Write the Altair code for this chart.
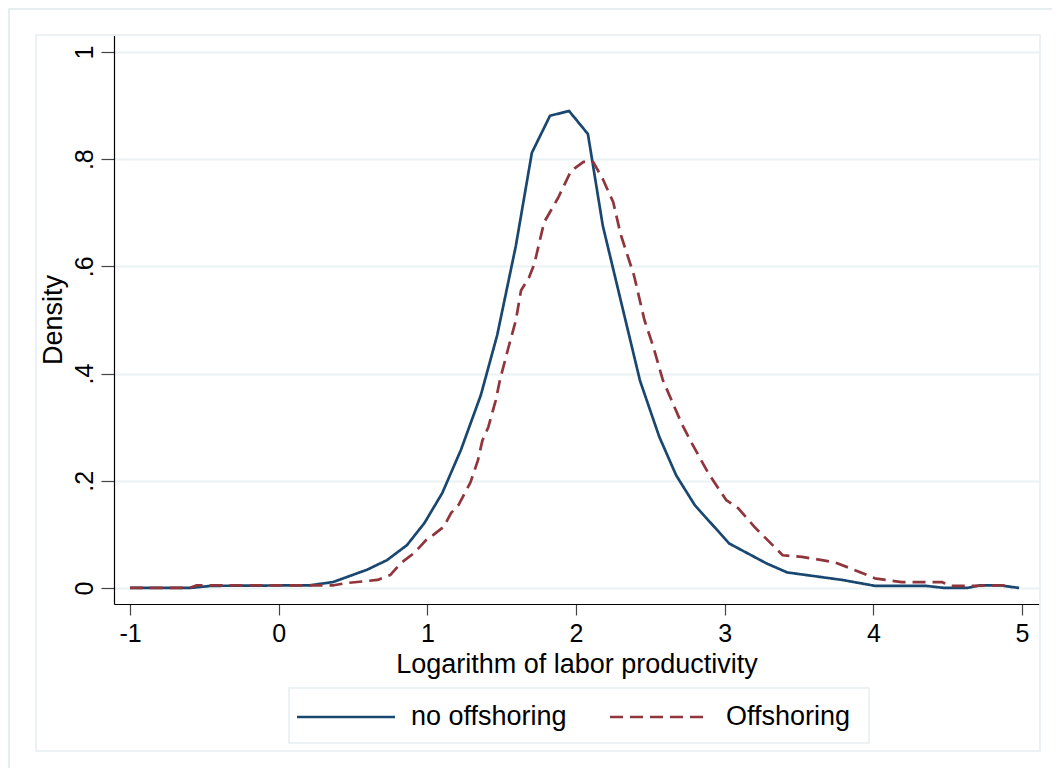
import altair as alt
import pandas as pd

FONT = "Liberation Sans"

# no offshoring (solid)
x_no = [-1.0, -0.6, -0.45, 0.21, 0.365, 0.594, 0.729, 0.863, 0.98, 1.1, 1.225, 1.36, 1.47,
        1.595, 1.703, 1.825, 1.953, 2.08, 2.18, 2.43, 2.56, 2.674, 2.80, 2.93, 3.03, 3.28,
        3.42, 3.79, 4.01, 4.35, 4.48, 4.63, 4.72, 4.85, 4.98]
y_no = [0.0, 0.0, 0.004, 0.005, 0.011, 0.034, 0.052, 0.08, 0.121, 0.177, 0.257, 0.36, 0.472,
        0.638, 0.812, 0.881, 0.89, 0.847, 0.676, 0.387, 0.282, 0.21, 0.154, 0.114, 0.083, 0.046,
        0.029, 0.015, 0.004, 0.004, 0.0, 0.0, 0.005, 0.005, 0.0]

# Offshoring (dashed)
x_off = [-1.0, -0.6, -0.55, 0.37, 0.45, 0.665, 0.75, 0.82, 0.91, 1.0, 1.04, 1.11, 1.16, 1.21,
         1.29, 1.34, 1.37, 1.41, 1.46, 1.49, 1.54, 1.595, 1.63, 1.685, 1.72, 1.785, 1.88, 1.966,
         2.05, 2.115, 2.18, 2.25, 2.30, 2.39, 2.46, 2.52, 2.585, 2.71, 2.775, 2.89, 3.01, 3.09,
         3.2, 3.39, 3.52, 3.74, 3.87, 4.01, 4.19, 4.46, 4.52, 4.68, 4.87, 4.93]
y_off = [0.0, 0.0, 0.005, 0.005, 0.009, 0.015, 0.024, 0.046, 0.065, 0.092, 0.099, 0.114, 0.14,
         0.155, 0.197, 0.238, 0.275, 0.30, 0.35, 0.39, 0.443, 0.499, 0.555, 0.58, 0.605, 0.682,
         0.728, 0.778, 0.795, 0.795, 0.763, 0.72, 0.66, 0.583, 0.50, 0.45, 0.387, 0.307, 0.272,
         0.214, 0.164, 0.149, 0.114, 0.061, 0.058, 0.048, 0.034, 0.018, 0.011, 0.011, 0.004,
         0.004, 0.005, 0.0]

series = ["no offshoring", "Offshoring"]
colors = ["#1A476F", "#90353B"]
dashes = [[1, 0], [13, 7]]
x_ticks = [-1, 0, 1, 2, 3, 4, 5]
y_ticks = [0, 0.2, 0.4, 0.6, 0.8, 1]

rows = []
for i, (xv, yv) in enumerate(zip(x_no, y_no)):
    rows.append({"x": xv, "y": yv, "series": series[0], "order": i})
for i, (xv, yv) in enumerate(zip(x_off, y_off)):
    rows.append({"x": xv, "y": yv, "series": series[1], "order": i})
df = pd.DataFrame(rows)

W, H = 925, 569
FRAME = "#E6EEF0"
LW = 2.7
one = pd.DataFrame({"a": [0]})

lines = alt.Chart(df).mark_line(strokeWidth=LW, strokeJoin="round").encode(
    x=alt.X("x:Q", scale=alt.Scale(domain=[-1.1076, 5.114], nice=False, zero=False),
            axis=alt.Axis(values=x_ticks, title="Logarithm of labor productivity",
                          labelExpr="'' + datum.value",
                          grid=False, tickSize=11, tickColor="#444444", labelPadding=6,
                          titlePadding=5)),
    y=alt.Y("y:Q", scale=alt.Scale(domain=[-0.0299, 1.0317], nice=False, zero=False),
            axis=alt.Axis(values=y_ticks, title="Density", grid=True, gridColor="#EAF2F3",
                          gridWidth=2, tickSize=13, tickColor="#444444", labelAngle=-90,
                          labelAlign="center", labelBaseline="bottom", labelPadding=4,
                          titlePadding=5,
                          labelExpr="datum.value == 0 ? '0' : (datum.value == 1 ? '1' : '.' + format(datum.value * 10, 'd'))")),
    color=alt.Color("series:N", scale=alt.Scale(domain=series, range=colors), legend=None),
    strokeDash=alt.StrokeDash("series:N", scale=alt.Scale(domain=series, range=dashes), legend=None),
    order="order:Q",
)

inner_frame = alt.Chart(one).mark_rect(fill=None, stroke=FRAME, strokeWidth=1.5).encode(
    x=alt.value(-78), x2=alt.value(926), y=alt.value(0), y2=alt.value(716))
outer_frame = alt.Chart(one).mark_rect(fill=None, stroke=FRAME, strokeWidth=2).encode(
    x=alt.value(-105), x2=alt.value(960), y=alt.value(-26), y2=alt.value(760))

# legend (drawn manually, Stata style)
legend_box = alt.Chart(one).mark_rect(fill="white", stroke=FRAME, strokeWidth=1.5).encode(
    x=alt.value(175), x2=alt.value(755), y=alt.value(653), y2=alt.value(708))
leg_sym1 = alt.Chart(one).mark_rule(color=colors[0], strokeWidth=LW).encode(
    x=alt.value(183), x2=alt.value(281), y=alt.value(682))
leg_sym2 = alt.Chart(one).mark_rule(color=colors[1], strokeWidth=LW, strokeDash=dashes[1]).encode(
    x=alt.value(496), x2=alt.value(596), y=alt.value(682))
leg_txt1 = alt.Chart(one).mark_text(text=series[0], align="left", baseline="middle", font=FONT,
                                    fontSize=27, color="black").encode(
    x=alt.value(297), y=alt.value(682))
leg_txt2 = alt.Chart(one).mark_text(text=series[1], align="left", baseline="middle", font=FONT,
                                    fontSize=27, color="black").encode(
    x=alt.value(612), y=alt.value(682))

chart = alt.layer(outer_frame, inner_frame, lines, legend_box, leg_sym1, leg_sym2,
                  leg_txt1, leg_txt2).properties(
    width=W, height=H,
    background="white",
    autosize=alt.AutoSizeParams(type="none"),
    padding={"left": 106, "top": 27, "right": 13, "bottom": 164},
).configure_view(strokeWidth=0).configure_axis(
    labelFont=FONT, titleFont=FONT, labelFontSize=25, titleFontSize=27,
    labelColor="black", titleColor="black", titleFontWeight="normal",
    domainColor="black", domainWidth=1.2, tickWidth=1.2,
)

chart.save("out.html", embed_options={"renderer": "svg", "actions": False})
